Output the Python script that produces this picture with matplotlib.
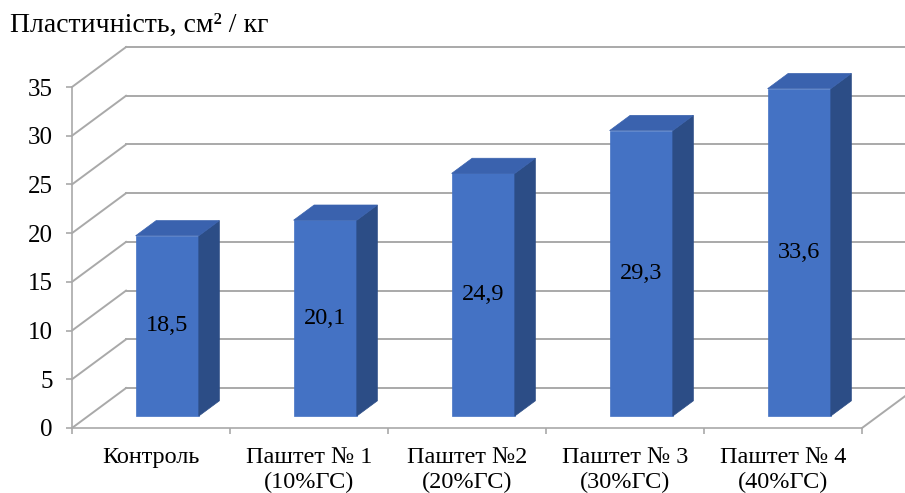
import matplotlib.pyplot as plt
from matplotlib.patches import Polygon

plt.rcParams["font.family"] = ["Liberation Serif", "DejaVu Serif"]

categories = ["Контроль", "Паштет № 1\n(10%ГС)", "Паштет №2\n(20%ГС)",
              "Паштет № 3\n(30%ГС)", "Паштет № 4\n(40%ГС)"]
values = [18.5, 20.1, 24.9, 29.3, 33.6]
value_labels = ["18,5", "20,1", "24,9", "29,3", "33,6"]
y_ticks = [0, 5, 10, 15, 20, 25, 30, 35]
title = "Пластичність, см² / кг"

FRONT = "#4472C4"
SIDE = "#2C4D86"
TOP = "#3A62AE"
GRID = "#A9A9A9"

# oblique depth offset (in data units)
DX = 0.342
DY = 4.1
Z0, Z1 = 0.3, 0.68
BAR_W = 0.4

fig = plt.figure(figsize=(9.05, 4.93), dpi=100)
ax = fig.add_axes([72 / 905, 65 / 493, 790 / 905, 341 / 493])
ax.set_xlim(-0.5, 4.5)
ax.set_ylim(0, 35)

n = len(categories)

# back wall grid + left wall diagonals
for v in y_ticks:
    ax.plot([-0.5 + DX, n - 0.5 + DX], [v + DY, v + DY], color=GRID, lw=1.4,
            clip_on=False, zorder=1)
    ax.plot([-0.5, -0.5 + DX], [v, v + DY], color=GRID, lw=1.4,
            clip_on=False, zorder=1)
# floor right edge
ax.plot([n - 0.5, n - 0.5 + DX], [0, DY], color=GRID, lw=1.4,
        clip_on=False, zorder=1)

for i, v in enumerate(values):
    x0 = i - BAR_W / 2 + Z0 * DX
    x1 = i + BAR_W / 2 + Z0 * DX
    b = Z0 * DY
    t = v + Z0 * DY
    ddx = (Z1 - Z0) * DX
    ddy = (Z1 - Z0) * DY
    front = Polygon([(x0, b), (x1, b), (x1, t), (x0, t)], closed=True,
                    facecolor=FRONT, edgecolor=FRONT, lw=0.5, zorder=3)
    side = Polygon([(x1, b), (x1 + ddx, b + ddy), (x1 + ddx, t + ddy), (x1, t)],
                   closed=True, facecolor=SIDE, edgecolor=SIDE, lw=0.5, zorder=3)
    top = Polygon([(x0, t), (x1, t), (x1 + ddx, t + ddy), (x0 + ddx, t + ddy)],
                  closed=True, facecolor=TOP, edgecolor=TOP, lw=0.5, zorder=3)
    for p in (front, side, top):
        p.set_clip_on(False)
        ax.add_patch(p)
    ax.text((x0 + x1) / 2, (b + t) / 2, value_labels[i], ha="center", va="center",
            fontsize=17.5, color="black", zorder=4)

for s in ["top", "right"]:
    ax.spines[s].set_visible(False)
for s in ["left", "bottom"]:
    ax.spines[s].set_color(GRID)
    ax.spines[s].set_linewidth(1.2)
    ax.spines[s].set_zorder(2)

ax.set_yticks(y_ticks)
ax.set_yticklabels([str(t) for t in y_ticks], fontsize=18)
ax.tick_params(axis="y", length=4, width=1.2, color=GRID, pad=10)

ax.set_xticks(range(n))
ax.set_xticklabels(categories, fontsize=17.5)
ax.set_xticks([i - 0.5 for i in range(n + 1)], minor=True)
ax.tick_params(axis="x", which="major", length=0, pad=14)
ax.tick_params(axis="x", which="minor", length=4, width=1.2, color=GRID)
ax.set_facecolor("none")

fig.text(10 / 905, 1 - 25 / 493, title, fontsize=20, ha="left", va="center")

fig.savefig("out.png", dpi=100)
